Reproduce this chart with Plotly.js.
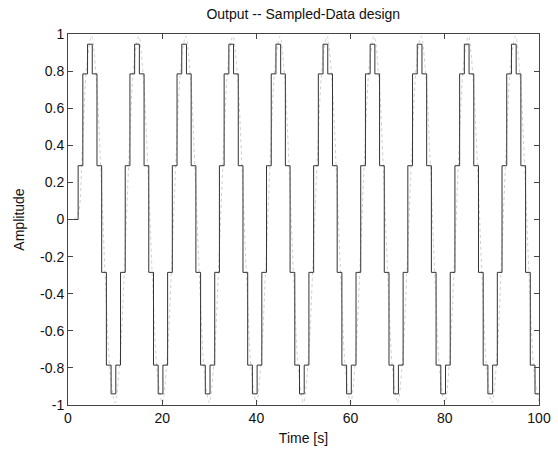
<!DOCTYPE html>
<html>
<head>
<meta charset="utf-8">
<script src="https://cdn.plot.ly/plotly-3.0.1.min.js"></script>
<style>html,body{margin:0;padding:0;background:#fff;}#chart{width:558px;height:453px;}</style>
</head>
<body>
<div id="chart"></div>
<script>
// Staircase (held) output: sample levels, one per second, first sample held from t = -0.85
var stairStart = -0.85;
var stairStep = 1;
var stairLevels = [
  0, 0, 0,
  0.29, 0.785, 0.945, 0.785, 0.29, -0.285, -0.785, -0.94, -0.785, -0.285,
  0.29, 0.785, 0.945, 0.785, 0.29, -0.285, -0.785, -0.94, -0.785, -0.285,
  0.29, 0.785, 0.945, 0.785, 0.29, -0.285, -0.785, -0.94, -0.785, -0.285,
  0.29, 0.785, 0.945, 0.785, 0.29, -0.285, -0.785, -0.94, -0.785, -0.285,
  0.29, 0.785, 0.945, 0.785, 0.29, -0.285, -0.785, -0.94, -0.785, -0.285,
  0.29, 0.785, 0.945, 0.785, 0.29, -0.285, -0.785, -0.94, -0.785, -0.285,
  0.29, 0.785, 0.945, 0.785, 0.29, -0.285, -0.785, -0.94, -0.785, -0.285,
  0.29, 0.785, 0.945, 0.785, 0.29, -0.285, -0.785, -0.94, -0.785, -0.285,
  0.29, 0.785, 0.945, 0.785, 0.29, -0.285, -0.785, -0.94, -0.785, -0.285,
  0.29, 0.785, 0.945, 0.785, 0.29, -0.285, -0.785, -0.94, -0.785
];

// Continuous (dotted) output, one value per second from t = 0
var contStart = 0;
var contStep = 1;
var contValues = [
  0, 0, 0.02,
  0.364, 0.836, 0.988, 0.763, 0.246, -0.364, -0.836, -0.988, -0.763, -0.246,
  0.364, 0.836, 0.988, 0.763, 0.246, -0.364, -0.836, -0.988, -0.763, -0.246,
  0.364, 0.836, 0.988, 0.763, 0.246, -0.364, -0.836, -0.988, -0.763, -0.246,
  0.364, 0.836, 0.988, 0.763, 0.246, -0.364, -0.836, -0.988, -0.763, -0.246,
  0.364, 0.836, 0.988, 0.763, 0.246, -0.364, -0.836, -0.988, -0.763, -0.246,
  0.364, 0.836, 0.988, 0.763, 0.246, -0.364, -0.836, -0.988, -0.763, -0.246,
  0.364, 0.836, 0.988, 0.763, 0.246, -0.364, -0.836, -0.988, -0.763, -0.246,
  0.364, 0.836, 0.988, 0.763, 0.246, -0.364, -0.836, -0.988, -0.763, -0.246,
  0.364, 0.836, 0.988, 0.763, 0.246, -0.364, -0.836, -0.988, -0.763, -0.246,
  0.364, 0.836, 0.988, 0.763, 0.246, -0.364, -0.836, -0.988
];

var xTickVals = [0, 20, 40, 60, 80, 100];
var xTickText = ['0', '20', '40', '60', '80', '100'];
var yTickVals = [-1, -0.8, -0.6, -0.4, -0.2, 0, 0.2, 0.4, 0.6, 0.8, 1];
var yTickText = ['-1', '-0.8', '-0.6', '-0.4', '-0.2', '0', '0.2', '0.4', '0.6', '0.8', '1'];

var fam = '"Liberation Sans", Arial, Helvetica, sans-serif';
var txt = {family: fam, size: 14, color: '#111'};

var traces = [
  {
    type: 'scatter', mode: 'lines',
    x0: contStart, dx: contStep, y: contValues,
    line: {color: '#cfcfcf', width: 1, dash: 'dot', shape: 'spline', smoothing: 1},
    hoverinfo: 'skip', showlegend: false
  },
  {
    type: 'scatter', mode: 'lines',
    x0: stairStart, dx: stairStep, y: stairLevels,
    line: {color: '#333333', width: 1, shape: 'hv'},
    showlegend: false
  }
];

var layout = {
  width: 558, height: 453,
  margin: {l: 68, r: 19, t: 34, b: 48, pad: 0},
  paper_bgcolor: '#fff', plot_bgcolor: '#fff',
  font: txt,
  showlegend: false,
  title: {text: 'Output -- Sampled-Data design', font: txt,
          x: 0.5435, xanchor: 'center', y: 0.969, yanchor: 'middle'},
  xaxis: {
    range: [0, 100], tickmode: 'array', tickvals: xTickVals, ticktext: xTickText,
    ticks: 'inside', ticklen: 5, tickcolor: '#444', tickwidth: 1,
    showline: true, linecolor: '#444', linewidth: 1, mirror: 'ticks',
    showgrid: false, zeroline: false,
    tickfont: txt,
    title: {text: 'Time [s]', font: txt, standoff: 8}
  },
  yaxis: {
    range: [-1, 1], tickmode: 'array', tickvals: yTickVals, ticktext: yTickText,
    ticks: 'inside', ticklen: 5, tickcolor: '#444', tickwidth: 1,
    showline: true, linecolor: '#444', linewidth: 1, mirror: 'ticks',
    showgrid: false, zeroline: false,
    tickfont: txt,
    title: {text: 'Amplitude', font: txt, standoff: 12}
  }
};

Plotly.newPlot('chart', traces, layout, {displayModeBar: false, staticPlot: true});
</script>
</body>
</html>
